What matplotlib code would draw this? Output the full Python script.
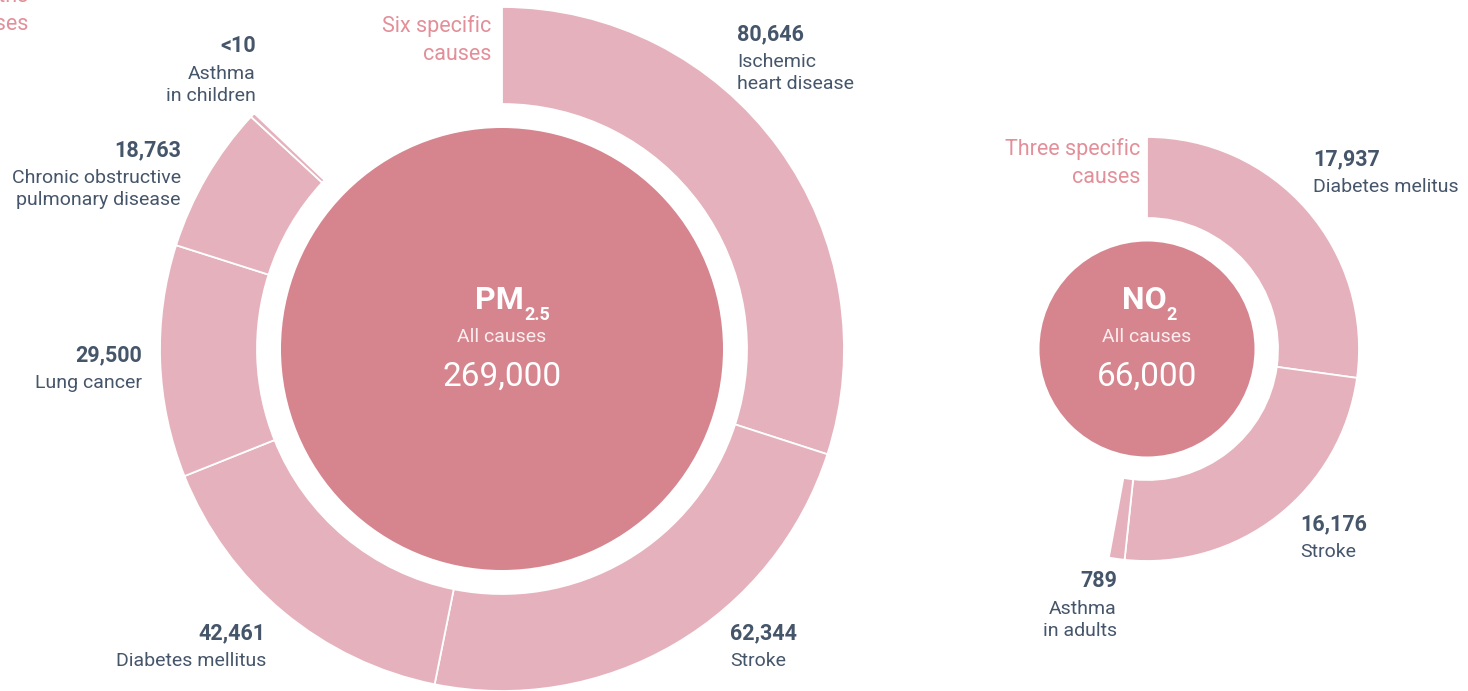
import matplotlib.pyplot as plt
from matplotlib.patches import Wedge, Circle

plt.rcParams['font.family'] = ['Roboto', 'DejaVu Sans']

# PM2.5
pm_total = 269000
pm_causes = ["Ischemic\nheart disease", "Stroke", "Diabetes mellitus", "Lung cancer",
             "Chronic obstructive\npulmonary disease", "Asthma\nin children"]
pm_deaths = [80646, 62344, 42461, 29500, 18763, 10]
pm_numbers = ["80,646", "62,344", "42,461", "29,500", "18,763", "<10"]

# NO2
no2_total = 66000
no2_causes = ["Diabetes melitus", "Stroke", "Asthma\nin adults"]
no2_deaths = [17937, 16176, 789]
no2_numbers = ["17,937", "16,176", "789"]

ring_color = "#e5b1bd"
core_color = "#d6858e"
dark = "#45556a"
pink = "#e28f99"

# label anchors (x, y of number, alignment)
pm_label_pos = [(737, 34, "left"), (730, 633, "left"), (266, 633, "right"),
                (142, 355, "right"), (181, 150, "right"), (256, 46, "right")]
no2_label_pos = [(1313, 159, "left"), (1300, 524, "left"), (1117, 581, "right")]

W, H = 1468, 691
fig = plt.figure(figsize=(W / 100, H / 100), dpi=100)
ax = fig.add_axes([0, 0, 1, 1])
ax.set_xlim(0, W)
ax.set_ylim(H, 0)
ax.axis("off")


def draw_ring(center, total, deaths, r_out, width, r_core, min_angle=0.8):
    # angles clockwise from 12 o'clock (y axis is inverted)
    start = 0.0
    for v in deaths:
        span = max(v / total * 360, min_angle)
        ax.add_patch(Wedge(center, r_out, start - 90, start + span - 90, width=width,
                           facecolor=ring_color, edgecolor="white", linewidth=1.3))
        start += span
    ax.add_patch(Circle(center, r_core, facecolor=core_color, edgecolor="none"))


def draw_labels(numbers, causes, positions):
    for num, cause, (x, y, ha) in zip(numbers, causes, positions):
        ax.text(x, y, num, ha=ha, va="center", fontsize=15.5, fontweight="bold", color=dark)
        ax.text(x, y + 19, cause, ha=ha, va="top", fontsize=14, color=dark, linespacing=1.25)


def draw_center(cx, main, sub, sub_x, total_text):
    ax.text(cx - 3, 300, main, ha="center", va="center", fontsize=23,
            fontweight="bold", color="white")
    ax.text(sub_x, 315, sub, ha="left", va="center", fontsize=13,
            fontweight="bold", color="white")
    ax.text(cx, 337, "All causes", ha="center", va="center", fontsize=14, color="#fbeef0")
    ax.text(cx, 377, total_text, ha="center", va="center", fontsize=24, color="white")


draw_ring((502, 349), pm_total, pm_deaths, 342, 97, 221)
draw_ring((1147, 349), no2_total, no2_deaths, 212, 81, 107.5)

draw_labels(pm_numbers, pm_causes, pm_label_pos)
draw_labels(no2_numbers, no2_causes, no2_label_pos)

draw_center(502, "PM", "2.5", 524, "269,000")
draw_center(1147, "NO", "2", 1166, "66,000")

ax.text(491, 15, "Six specific\ncauses", ha="right", va="top", fontsize=15.5,
        color=pink, linespacing=1.45)
ax.text(1140, 138, "Three specific\ncauses", ha="right", va="top", fontsize=15.5,
        color=pink, linespacing=1.45)
ax.text(28, -14, "All deaths\nfrom all causes", ha="right", va="top", fontsize=15.5,
        color=pink, linespacing=1.45)

fig.savefig("out.png", dpi=100, facecolor="white")
